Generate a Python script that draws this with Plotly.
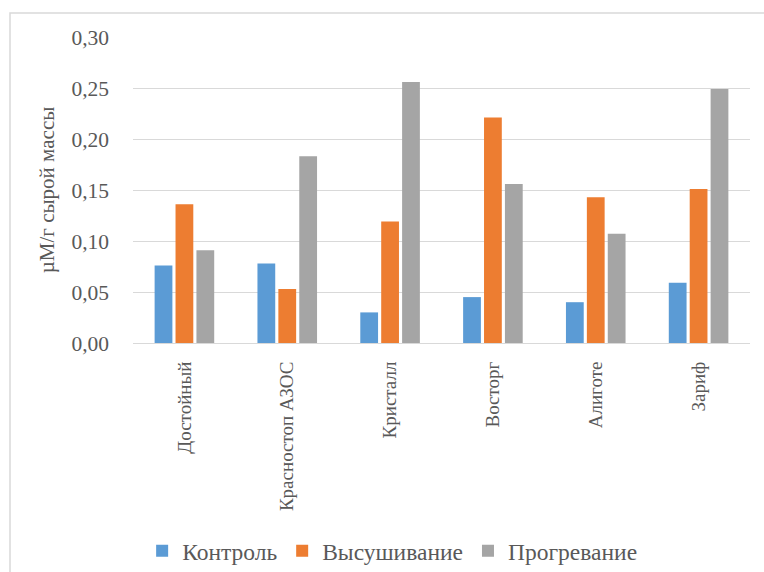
import plotly.graph_objects as go

# Varieties and measured concentrations (µM per g fresh weight)
categories = ["Достойный", "Красностоп АЗОС", "Кристалл", "Восторг", "Алиготе", "Зариф"]
control = [0.076, 0.078, 0.030, 0.045, 0.040, 0.059]
drying = [0.136, 0.053, 0.119, 0.221, 0.143, 0.151]
heating = [0.091, 0.183, 0.256, 0.156, 0.107, 0.249]

series_names = ["Контроль", "Высушивание", "Прогревание"]
series_values = [control, drying, heating]
series_colors = ["#5B9BD5", "#ED7D31", "#A5A5A5"]

tick_vals = [0.00, 0.05, 0.10, 0.15, 0.20, 0.25, 0.30]

W, H = 764, 572
L, R, T, B = 133, 14, 37, 229

fig = go.Figure()
for name, vals, col in zip(series_names, series_values, series_colors):
    fig.add_trace(go.Bar(x=categories, y=vals, name=name, marker_color=col,
                         marker_line_width=0))

serif = "Liberation Serif"
text_col = "#595959"

# outer chart frame (extends past right/bottom page edges)
pw, ph = W - L - R, H - T - B
fig.add_shape(type="rect", xref="paper", yref="paper",
              x0=(10 - L) / pw, x1=(W + 5 - L) / pw,
              y0=-(H + 5 - T - ph) / ph, y1=1 + (T - 13) / ph,
              line=dict(color="#D9D9D9", width=1.5), fillcolor="rgba(0,0,0,0)",
              layer="below")

fig.update_layout(
    width=W, height=H,
    margin=dict(l=L, r=R, t=T, b=B, autoexpand=False),
    paper_bgcolor="white", plot_bgcolor="white",
    separators=", ",
    barmode="group", bargap=0.39, bargroupgap=0.15,
    font=dict(family=serif, color=text_col, size=18),
    showlegend=True,
    legend=dict(orientation="h", x=0.42, xanchor="center", y=-0.68, yanchor="middle",
                font=dict(family=serif, size=23.5, color=text_col), itemwidth=30,
                tracegroupgap=0, traceorder="normal"),
    xaxis=dict(showgrid=False, tickangle=-90,
               tickfont=dict(family=serif, size=19, color=text_col),
               showline=True, linecolor="#D9D9D9", linewidth=1, ticks="",
               ticklabelstandoff=10),
    yaxis=dict(range=[0, 0.30], tickvals=tick_vals, tickformat=".2f",
               showgrid=True, gridcolor="#D9D9D9", gridwidth=1,
               zeroline=False, showline=False, ticks="",
               tickfont=dict(family=serif, size=21.5, color=text_col), ticklabelstandoff=23,
               title=dict(text="µM/г сырой массы",
                          font=dict(family=serif, size=21, color=text_col),
                          standoff=11)),
)

fig.write_html("out.html")
